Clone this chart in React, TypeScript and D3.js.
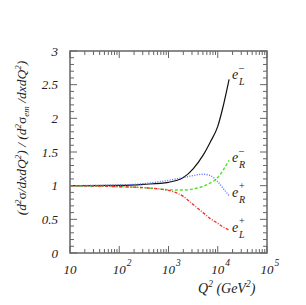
import React from "react";
import * as d3 from "d3";

// Q^2 sample points (GeV^2) and ratio to pure photon exchange
const q2 = [10, 100, 316, 1000, 2000, 3162, 5012, 7079, 10000, 12589, 17000];
const eLminus = [1.0, 1.005, 1.02, 1.05, 1.12, 1.25, 1.45, 1.65, 1.88, 2.15, 2.58];
const eRminus = [0.995, 0.985, 0.97, 0.94, 0.935, 0.95, 0.99, 1.04, 1.12, 1.22, 1.38];
const eRplus = [1.0, 1.01, 1.03, 1.08, 1.12, 1.15, 1.17, 1.15, 1.06, 0.97, 0.85];
const eLplus = [1.0, 0.985, 0.97, 0.93, 0.84, 0.72, 0.6, 0.51, 0.44, 0.39, 0.34];

const yTicks = [0, 0.5, 1, 1.5, 2, 2.5, 3];
const yTickLabels = ["0", "0.5", "1", "1.5", "2", "2.5", "3"];
const xDecades = [1, 2, 3, 4, 5];

// curve labels: charge sign, helicity subscript, label baseline in data units
const labelSigns = ["\u2013", "\u2013", "+", "+"];
const labelSubs = ["L", "R", "R", "L"];
const labelValues = [2.58, 1.35, 0.83, 0.31];

const W = 306;
const H = 305;
const margin = { top: 51, right: 39, bottom: 52, left: 70 };
const font = "'Liberation Serif', 'DejaVu Serif', serif";
const axisColor = "#666";

export default function App() {
  const x = d3.scaleLog().domain([10, 1e5]).range([margin.left, W - margin.right]);
  const y = d3.scaleLinear().domain([0, 3]).range([H - margin.bottom, margin.top]);
  const x0 = margin.left;
  const x1 = W - margin.right;
  const y0 = H - margin.bottom;
  const y1 = margin.top;

  const line = d3
    .line<number>()
    .x((_, i) => x(q2[i]))
    .y((d) => y(d))
    .curve(d3.curveMonotoneX);

  const series = [
    { values: eLminus, color: "#111", dash: "none", width: 1.2 },
    { values: eRminus, color: "#55e033", dash: "3 2", width: 1.4 },
    { values: eRplus, color: "#5a6cff", dash: "1 1.5", width: 1.4 },
    { values: eLplus, color: "#ee3333", dash: "3 1.5 1 1.5", width: 1.4 },
  ];

  // minor ticks on x: 2..9 within each decade
  const xMinor: number[] = [];
  for (let d = 1; d < 5; d++) for (let m = 2; m <= 9; m++) xMinor.push(m * Math.pow(10, d));
  const yMinor = d3.range(0, 3.001, 0.1).filter((v) => Math.abs(v * 2 - Math.round(v * 2)) > 1e-6);

  return (
    <div style={{ position: "fixed", top: 0, left: 0 }}>
      <svg width={W} height={H} style={{ display: "block", background: "#fff" }}>
        {/* frame */}
        <rect x={x0} y={y1} width={x1 - x0} height={y0 - y1} fill="none" stroke={axisColor} strokeWidth={1.5} />

        {/* x ticks bottom & top */}
        {xDecades.map((d) => {
          const px = x(Math.pow(10, d));
          return (
            <g key={"xM" + d}>
              <line x1={px} x2={px} y1={y0} y2={y0 - 7} stroke={axisColor} strokeWidth={1} />
              <line x1={px} x2={px} y1={y1} y2={y1 + 7} stroke={axisColor} strokeWidth={1} />
            </g>
          );
        })}
        {xMinor.map((v) => (
          <g key={"xm" + v}>
            <line x1={x(v)} x2={x(v)} y1={y0} y2={y0 - 4} stroke={axisColor} strokeWidth={1} />
            <line x1={x(v)} x2={x(v)} y1={y1} y2={y1 + 4} stroke={axisColor} strokeWidth={1} />
          </g>
        ))}

        {/* y ticks left & right */}
        {yTicks.map((v) => (
          <g key={"yM" + v}>
            <line x1={x0} x2={x0 + 7} y1={y(v)} y2={y(v)} stroke={axisColor} strokeWidth={1} />
            <line x1={x1} x2={x1 - 7} y1={y(v)} y2={y(v)} stroke={axisColor} strokeWidth={1} />
          </g>
        ))}
        {yMinor.map((v) => (
          <g key={"ym" + v}>
            <line x1={x0} x2={x0 + 4} y1={y(v)} y2={y(v)} stroke={axisColor} strokeWidth={1} />
            <line x1={x1} x2={x1 - 4} y1={y(v)} y2={y(v)} stroke={axisColor} strokeWidth={1} />
          </g>
        ))}

        {/* y tick labels */}
        {yTicks.map((v, i) => (
          <text
            key={"yl" + v}
            x={x0 - 12}
            y={y(v) + 4.5}
            textAnchor="end"
            fontFamily={font}
            fontStyle="italic"
            fontSize={13}
            fill="#222"
          >
            {yTickLabels[i]}
          </text>
        ))}

        {/* x tick labels */}
        {xDecades.map((d) => {
          const px = x(Math.pow(10, d));
          return (
            <g key={"xl" + d} fontFamily={font} fontStyle="italic" fill="#222">
              <text x={px} y={274} textAnchor="middle" fontSize={13}>
                10
              </text>
              {d > 1 && (
                <text x={px + 7.5} y={266} fontSize={9.5}>
                  {d}
                </text>
              )}
            </g>
          );
        })}

        {/* curves */}
        {series.map((s, i) => (
          <path
            key={"s" + i}
            d={line(s.values) || ""}
            fill="none"
            stroke={s.color}
            strokeWidth={s.width}
            strokeDasharray={s.dash}
          />
        ))}

        {/* curve labels */}
        {labelValues.map((v, i) => {
          const px = x(q2[q2.length - 1]) + 3;
          const py = y(v);
          return (
            <g key={"lab" + i} fontFamily={font} fontStyle="italic" fill="#222">
              <text x={px} y={py} fontSize={14}>
                e
              </text>
              <text x={px + 7} y={py + 5.5} fontSize={10}>
                {labelSubs[i]}
              </text>
              <text x={px + 7} y={py - 8.5} fontSize={10} fontStyle="normal">
                {labelSigns[i]}
              </text>
            </g>
          );
        })}

        {/* x axis title */}
        <text x={198} y={293} fontFamily={font} fontStyle="italic" fontSize={14} fill="#222">
          Q<tspan fontSize={9.5} dy={-6}>2</tspan>
          <tspan dy={6}> (GeV</tspan>
          <tspan fontSize={9.5} dy={-6}>2</tspan>
          <tspan dy={6}>)</tspan>
        </text>

        {/* y axis title */}
        <text
          transform={`translate(26, 138) rotate(-90)`}
          textAnchor="middle"
          fontFamily={font}
          fontStyle="italic"
          fontSize={13.5}
          fill="#222"
        >
          (d<tspan fontSize={9} dy={-5}>2</tspan>
          <tspan dy={5} fontStyle="normal">σ</tspan>/dxdQ<tspan fontSize={9} dy={-5}>2</tspan>
          <tspan dy={5}>) / (d</tspan>
          <tspan fontSize={9} dy={-5}>2</tspan>
          <tspan dy={5} fontStyle="normal">σ</tspan>
          <tspan fontSize={9} dy={3}>em</tspan>
          <tspan dy={-3}> /dxdQ</tspan>
          <tspan fontSize={9} dy={-5}>2</tspan>
          <tspan dy={5}>)</tspan>
        </text>
      </svg>
    </div>
  );
}
